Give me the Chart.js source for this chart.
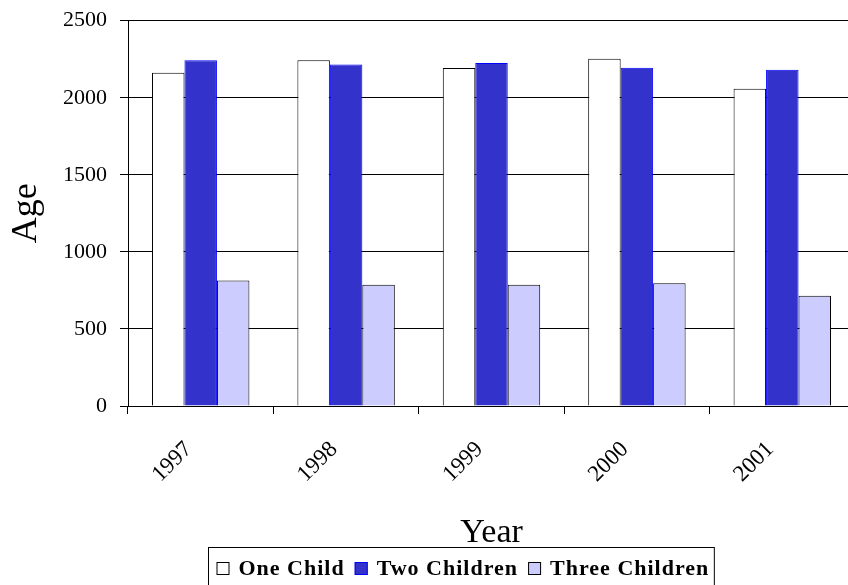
<!DOCTYPE html>
<html>
<head>
<meta charset="utf-8">
<script src="https://cdn.jsdelivr.net/npm/chart.js@4"></script>
<style>
    html, body { margin: 0; padding: 0; background: #fff; overflow: hidden; }
    #wrap { width: 848px; height: 585px; overflow: hidden; }
</style>
</head>
<body>
<div id="wrap"><canvas id="chart" width="856" height="600"></canvas></div>
<script>
// data
const years = ["1997", "1998", "1999", "2000", "2001"];
const oneChild = [2162, 2243, 2193, 2253, 2059];
const twoChildren = [2243, 2215, 2225, 2195, 2182];
const threeChildren = [815, 787, 787, 796, 716];
const seriesNames = ["One Child", "Two Children", "Three Children"];

const serif = "'Liberation Serif', 'Times New Roman', serif";

// boxed legend under the axis title
const boxLegend = {
    id: "boxLegend",
    afterDraw(chart) {
        const ctx = chart.ctx;
        const sets = chart.data.datasets;
        const sq = 13, gapText = 9, gapItem = 10, padL = 8, padR = 5;
        ctx.save();
        ctx.font = "bold 22px " + serif;
        ctx.letterSpacing = "1px";
        const widths = sets.map((d) => ctx.measureText(d.label).width);
        let total = padL + padR;
        widths.forEach((w, i) => {
            total += sq + gapText + w + (i < widths.length - 1 ? gapItem : 0);
        });
        const top = 547;
        const left = Math.round(461 - total / 2) + 0.5;
        ctx.strokeStyle = "#000";
        ctx.lineWidth = 1;
        ctx.strokeRect(left, top + 0.5, total, 50);

        let x = left + padL;
        const cy = 569;
        ctx.textBaseline = "middle";
        sets.forEach((d, i) => {
            ctx.fillStyle = d.backgroundColor;
            ctx.fillRect(x, cy - 7, sq, sq);
            ctx.strokeStyle = d.borderColor;
            ctx.strokeRect(x + 0.5, cy - 6.5, sq - 1, sq - 1);
            x += sq + gapText;
            ctx.fillStyle = "#000";
            ctx.fillText(d.label, x, cy);
            x += widths[i] + gapItem;
        });
        ctx.restore();
    },
};

new Chart(document.getElementById("chart"), {
    type: "bar",
    data: {
        labels: years,
        datasets: [
            {
                label: seriesNames[0],
                data: oneChild,
                backgroundColor: "#ffffff",
                borderColor: "#000000",
                borderWidth: 1,
            },
            {
                label: seriesNames[1],
                data: twoChildren,
                backgroundColor: "#3333cc",
                borderColor: "#0000ff",
                borderWidth: 1,
            },
            {
                label: seriesNames[2],
                data: threeChildren,
                backgroundColor: "#ccccff",
                borderColor: "#000000",
                borderWidth: 1,
            },
        ],
    },
    options: {
        responsive: false,
        animation: false,
        devicePixelRatio: 1,
        categoryPercentage: 0.67,
        barPercentage: 1.0,
        layout: {
            padding: { top: 20.7, left: 0, right: 1, bottom: 53 },
        },
        plugins: {
            legend: { display: false },
            tooltip: { enabled: false },
        },
        scales: {
            x: {
                grid: {
                    drawOnChartArea: false,
                    drawTicks: true,
                    tickLength: 8,
                    color: "#000",
                    offset: true,
                },
                border: { color: "#000", width: 1 },
                ticks: {
                    minRotation: 45,
                    maxRotation: 45,
                    padding: 22,
                    labelOffset: -12,
                    color: "#000",
                    font: { family: serif, size: 23 },
                },
                title: {
                    display: true,
                    text: "Year",
                    color: "#000",
                    padding: { top: 0, bottom: -3 },
                    font: { family: serif, size: 34, lineHeight: 1 },
                },
                afterFit(scale) {
                    scale.height = 141;
                    scale.paddingLeft = 0;
                    scale.paddingRight = 0;
                },
            },
            y: {
                min: 0,
                max: 2500,
                grid: {
                    color: "#000",
                    tickLength: 8,
                },
                border: { color: "#000", width: 1 },
                ticks: {
                    stepSize: 500,
                    padding: 13,
                    color: "#000",
                    font: { family: serif, size: 22 },
                    callback: (v) => String(v),
                },
                title: {
                    display: true,
                    text: "Age",
                    color: "#000",
                    padding: { top: 9, bottom: 0 },
                    font: { family: serif, size: 36, lineHeight: 1 },
                },
                afterFit(scale) {
                    scale.width = 128;
                    scale.paddingTop = 0;
                    scale.paddingBottom = 0;
                },
            },
        },
    },
    plugins: [boxLegend],
});
</script>
</body>
</html>
